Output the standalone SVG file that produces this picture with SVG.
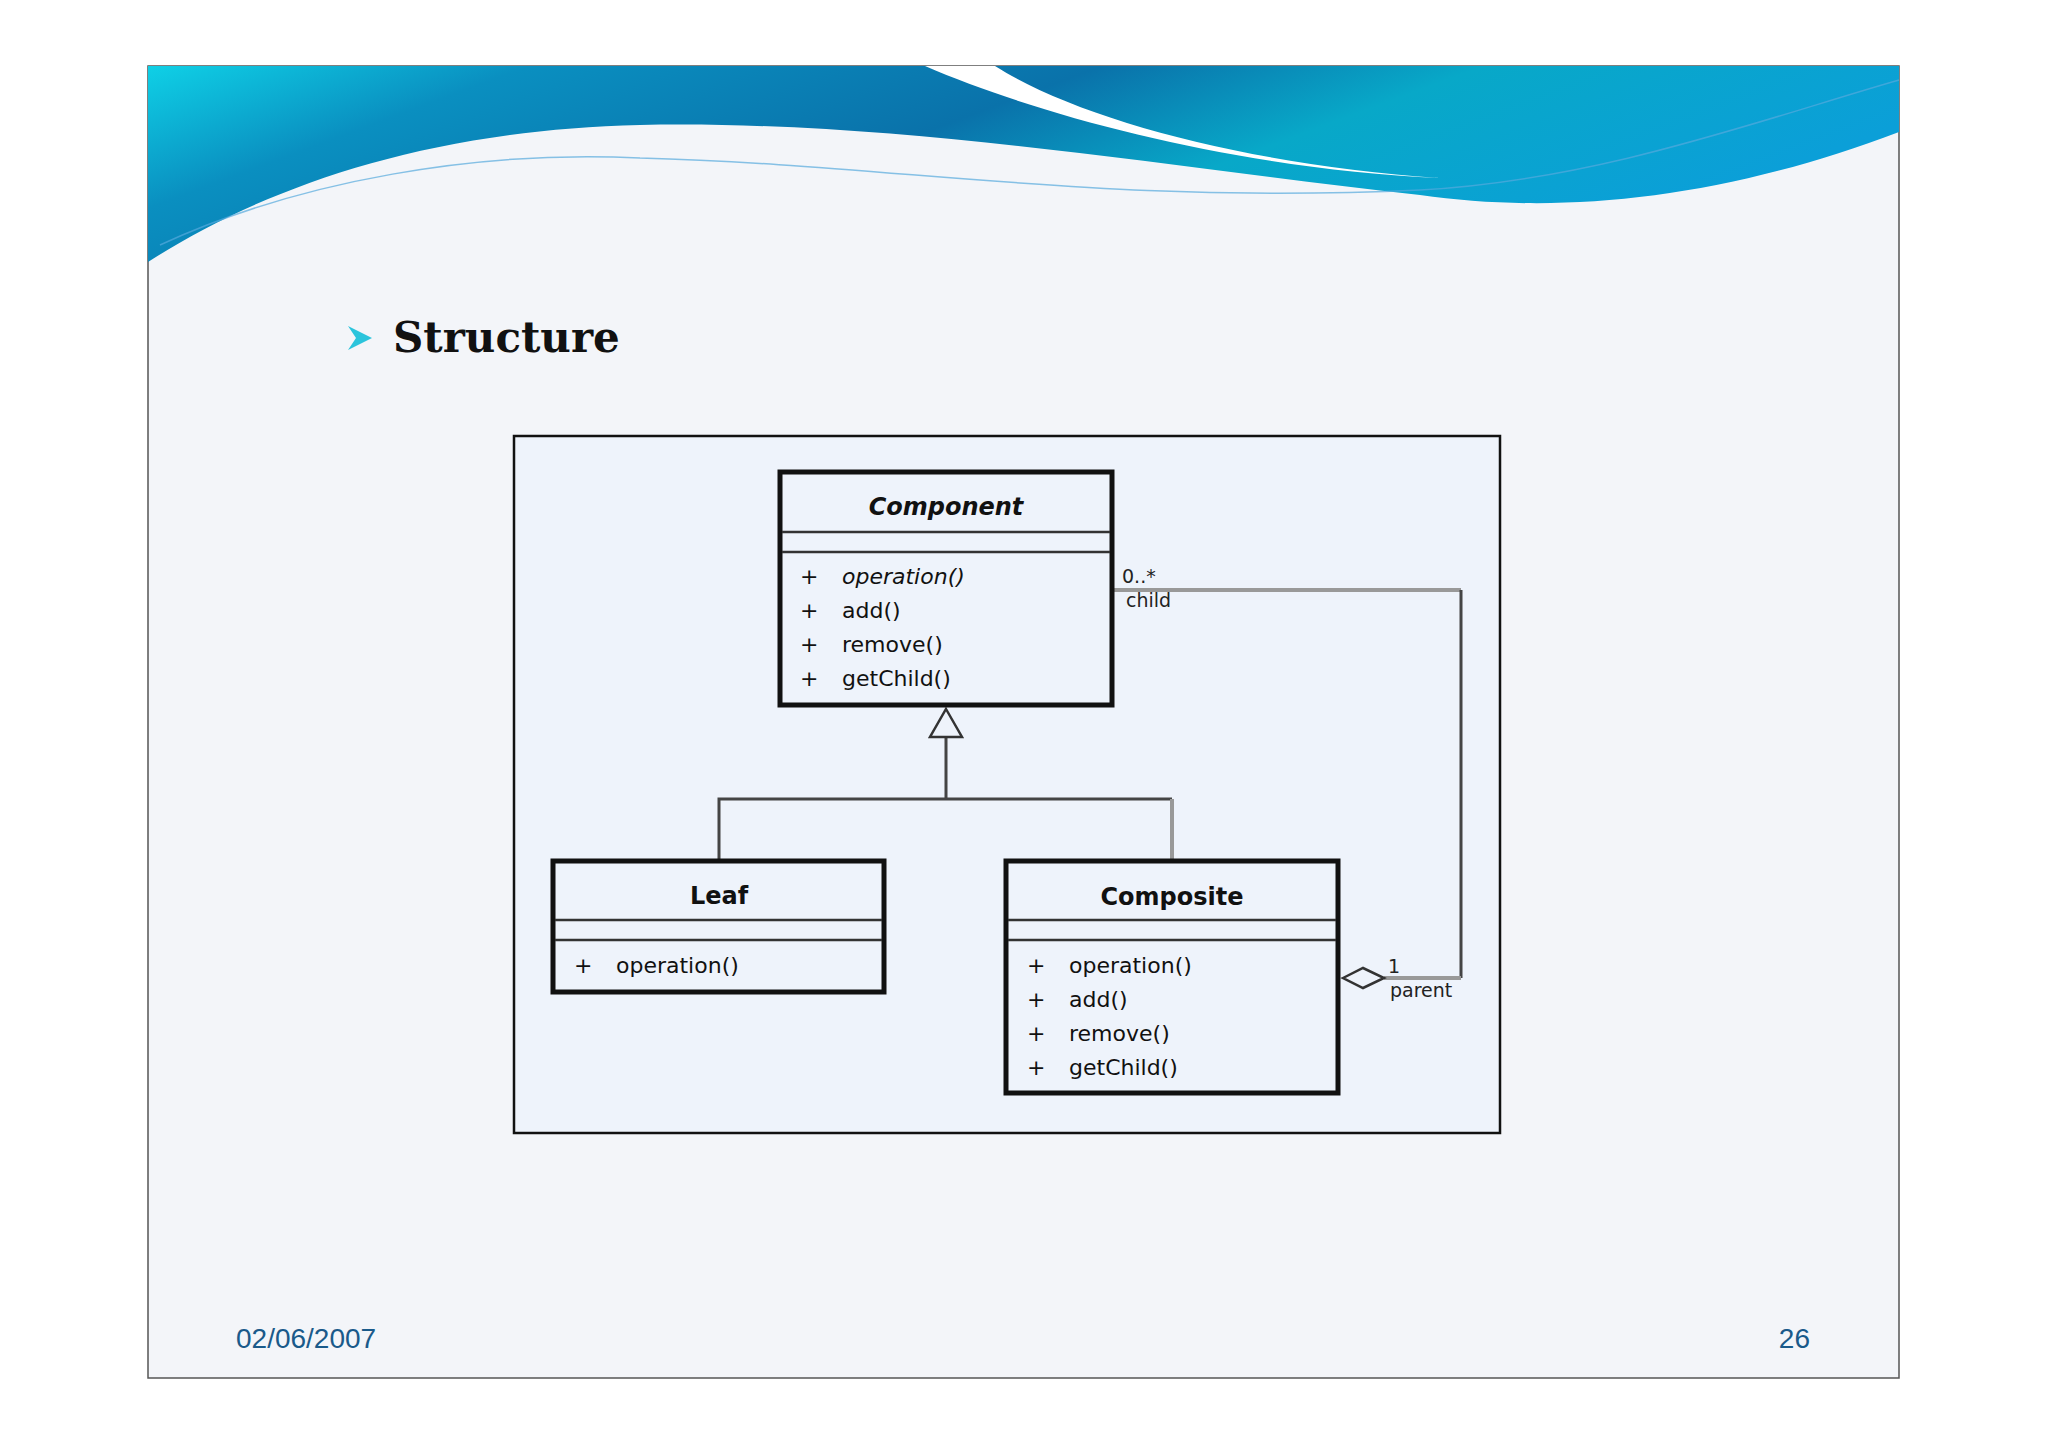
<svg xmlns="http://www.w3.org/2000/svg" width="2048" height="1447" viewBox="0 0 2048 1447">
<defs>
<linearGradient id="bn" x1="0" y1="0" x2="1" y2="0.3">
<stop offset="0" stop-color="#0fd0e6"/>
<stop offset="0.2" stop-color="#0a8fc0"/>
<stop offset="0.5" stop-color="#0a72aa"/>
<stop offset="0.7" stop-color="#08a8c8"/>
<stop offset="1" stop-color="#0b9fd8"/>
</linearGradient>
<style>
.cls{fill:#eef3fb;stroke:#111;stroke-width:5}
.sep{stroke:#333;stroke-width:2.5}
.t{font-family:"DejaVu Sans",sans-serif;font-size:22px;fill:#111}
.h{font-family:"DejaVu Sans",sans-serif;font-size:24px;font-weight:bold;fill:#111;text-anchor:middle}
.lbl{font-family:"DejaVu Sans",sans-serif;font-size:19px;fill:#222}
.ln{fill:none;stroke:#444;stroke-width:3}
.gl{fill:none;stroke:#999;stroke-width:4}
</style>
</defs>
<rect width="2048" height="1447" fill="#fff"/>
<rect x="148" y="66" width="1751" height="1312" fill="#f3f5f9" stroke="#555" stroke-width="1.5"/>
<path d="M148 66 H1899 V132 C1720 200 1560 215 1420 195 C1150 165 900 120 640 125 C420 130 260 190 148 262 Z" fill="url(#bn)"/>
<path d="M925 66 C1050 120 1250 170 1440 178 C1250 165 1080 120 995 66 Z" fill="#fff"/>
<path d="M160 245 C300 180 480 150 640 158 C900 165 1100 205 1420 190 C1600 180 1760 120 1899 80" fill="none" stroke="#5ad" stroke-width="1.5" opacity="0.7"/>
<path d="M348 326 L372 338 L348 350 L356 338 Z" fill="#2bc4dc"/>
<text x="393" y="352" font-family="'DejaVu Serif','Liberation Serif',serif" font-weight="bold" font-size="42" fill="#111">Structure</text>
<text x="236" y="1348" font-family="'Liberation Sans',sans-serif" font-size="28" fill="#1a5a8a">02/06/2007</text>
<text x="1810" y="1348" font-family="'Liberation Sans',sans-serif" font-size="28" fill="#1a5a8a" text-anchor="end">26</text>
<rect x="514" y="436" width="986" height="697" fill="#eef3fb" stroke="#111" stroke-width="2.5"/>
<g id="connectors">
<path class="ln" d="M946 737 V799 M719 861 V799 H1172"/>
<path class="gl" d="M1172 799 V861"/>
<path d="M946 709 L962 737 H930 Z" fill="#eef3fb" stroke="#333" stroke-width="2.5"/>
<path class="gl" d="M1112 590 H1461"/>
<path class="ln" d="M1461 590 V978"/>
<path class="gl" d="M1461 978 H1384"/>
<path d="M1343 978 L1363 968 L1384 978 L1363 988 Z" fill="#eef3fb" stroke="#333" stroke-width="2.5"/>
<text class="lbl" x="1122" y="583">0..*</text>
<text class="lbl" x="1126" y="607">child</text>
<text class="lbl" x="1388" y="973">1</text>
<text class="lbl" x="1390" y="997">parent</text>
</g>
<g id="component">
<rect class="cls" x="780" y="472" width="332" height="233"/>
<line class="sep" x1="782" y1="532" x2="1110" y2="532"/>
<line class="sep" x1="782" y1="552" x2="1110" y2="552"/>
<text class="h" x="946" y="515" font-style="italic">Component</text>
<text class="t" x="800" y="584">+</text><text class="t" x="842" y="584" font-style="italic">operation()</text>
<text class="t" x="800" y="618">+</text><text class="t" x="842" y="618">add()</text>
<text class="t" x="800" y="652">+</text><text class="t" x="842" y="652">remove()</text>
<text class="t" x="800" y="686">+</text><text class="t" x="842" y="686">getChild()</text>
</g>
<g id="leaf">
<rect class="cls" x="553" y="861" width="331" height="131"/>
<line class="sep" x1="555" y1="920" x2="882" y2="920"/>
<line class="sep" x1="555" y1="940" x2="882" y2="940"/>
<text class="h" x="719" y="904">Leaf</text>
<text class="t" x="574" y="973">+</text><text class="t" x="616" y="973">operation()</text>
</g>
<g id="composite">
<rect class="cls" x="1006" y="861" width="332" height="232"/>
<line class="sep" x1="1008" y1="920" x2="1336" y2="920"/>
<line class="sep" x1="1008" y1="940" x2="1336" y2="940"/>
<text class="h" x="1172" y="905">Composite</text>
<text class="t" x="1027" y="973">+</text><text class="t" x="1069" y="973">operation()</text>
<text class="t" x="1027" y="1007">+</text><text class="t" x="1069" y="1007">add()</text>
<text class="t" x="1027" y="1041">+</text><text class="t" x="1069" y="1041">remove()</text>
<text class="t" x="1027" y="1075">+</text><text class="t" x="1069" y="1075">getChild()</text>
</g>
</svg>
